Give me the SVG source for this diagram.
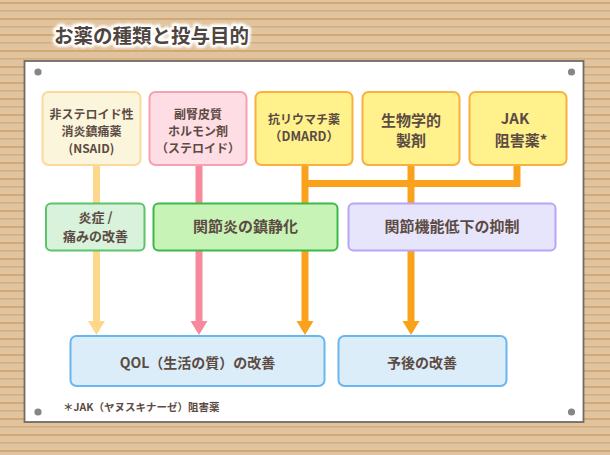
<svg xmlns="http://www.w3.org/2000/svg" width="610" height="455" viewBox="0 0 610 455">
<defs>
<pattern id="wood" x="0" y="2" width="610" height="16" patternUnits="userSpaceOnUse">
<rect width="610" height="16" fill="#e0c49f"/>
<rect y="0" width="610" height="2" fill="#d3a872"/>
<rect y="8" width="610" height="1.6" fill="#d6ae7c"/>
</pattern>
<filter id="glow" x="-10%" y="-40%" width="120%" height="180%">
<feGaussianBlur stdDeviation="1"/>
</filter>
</defs>
<style>
.t{font-family:"Noto Sans CJK JP","Noto Sans",sans-serif;font-weight:bold;fill:#5c4b43;text-anchor:middle}
.box{stroke-width:2}
.nsaid{fill:#fbf5dc;stroke:#fcd99b}
.ster{fill:#fedde4;stroke:#f7a0b1}
.yel{fill:#fff18c;stroke:#f9b03c}
.g1{fill:#d8f2dc;stroke:#5cc46b}
.g2{fill:#c8f3b6;stroke:#3bb94b}
.pur{fill:#e7e5fc;stroke:#b7a6f5}
.blu{fill:#dcedfa;stroke:#6ab6ee}
.pin{fill:#8a8582}
</style>
<rect width="610" height="455" fill="url(#wood)"/>
<g id="title">
<text x="54" y="43" class="t" style="text-anchor:start;font-size:19.5px;fill:#fff;stroke:#fff;stroke-width:6;stroke-linejoin:round" filter="url(#glow)">お薬の種類と投与目的</text>
<text x="54" y="43" class="t" style="text-anchor:start;font-size:19.5px;fill:#4f4540">お薬の種類と投与目的</text>
</g>
<g id="board">
<rect x="24.5" y="61" width="559" height="361" fill="#fff" stroke="#6f6b67" stroke-width="1.8"/>
<circle class="pin" cx="38" cy="72" r="3.6"/>
<circle class="pin" cx="571.5" cy="72" r="3.6"/>
<circle class="pin" cx="38" cy="412" r="3.6"/>
<circle class="pin" cx="571.5" cy="412" r="3.6"/>
</g>
<g id="connectors" fill="none" stroke-width="7">
<path d="M96.5,165 V323" stroke="#fdd88c"/>
<polygon points="88,321 105,321 96.5,335" fill="#fdd88c" stroke="none"/>
<path d="M199,165 V323" stroke="#f7899d"/>
<polygon points="190.5,321 207.5,321 199,335" fill="#f7899d" stroke="none"/>
<path d="M305,165 V323 M411,165 V323 M517,165 V183.5 H305" stroke="#faa21c" stroke-linejoin="miter"/>
<polygon points="296.5,321 313.5,321 305,335" fill="#faa21c" stroke="none"/>
<polygon points="402.5,321 419.5,321 411,335" fill="#faa21c" stroke="none"/>
</g>
<g id="n-nsaid">
<rect class="box nsaid" x="42.5" y="92" width="98" height="73" rx="6"/>
<text class="t" x="91.5" y="119" font-size="12">非ステロイド性</text>
<text class="t" x="91.5" y="136" font-size="12">消炎鎮痛薬</text>
<text class="t" x="91.5" y="152.5" font-size="12">(NSAID)</text>
</g>
<g id="n-steroid">
<rect class="box ster" x="149.5" y="92" width="97" height="73" rx="6"/>
<text class="t" x="198" y="119" font-size="12">副腎皮質</text>
<text class="t" x="198" y="136" font-size="12">ホルモン剤</text>
<text class="t" x="198" y="152.5" font-size="12">（ステロイド）</text>
</g>
<g id="n-dmard">
<rect class="box yel" x="255.5" y="92" width="97" height="73" rx="6"/>
<text class="t" x="304" y="123.5" font-size="12">抗リウマチ薬</text>
<text class="t" x="304" y="140.5" font-size="12.5">（DMARD）</text>
</g>
<g id="n-bio">
<rect class="box yel" x="362.5" y="92" width="97" height="73" rx="6"/>
<text class="t" x="411" y="125.5" font-size="15">生物学的</text>
<text class="t" x="411" y="146" font-size="15">製剤</text>
</g>
<g id="n-jak">
<rect class="box yel" x="469.5" y="92" width="97" height="73" rx="6"/>
<text class="t" x="515" y="124" font-size="15">JAK</text>
<text class="t" x="521" y="146" font-size="15">阻害薬*</text>
</g>
<g id="n-pain">
<rect class="box g1" x="46" y="203.5" width="98.5" height="47" rx="5"/>
<text class="t" x="95.5" y="222" font-size="13">炎症 /</text>
<text class="t" x="95.5" y="240.5" font-size="13">痛みの改善</text>
</g>
<g id="n-calm">
<rect class="box g2" x="153.5" y="203.5" width="184" height="47" rx="5"/>
<text class="t" x="245.5" y="232" font-size="15">関節炎の鎮静化</text>
</g>
<g id="n-func">
<rect class="box pur" x="348.5" y="203.5" width="207" height="47" rx="5"/>
<text class="t" x="452" y="232" font-size="15">関節機能低下の抑制</text>
</g>
<g id="n-qol">
<rect class="box blu" x="70.5" y="336" width="254" height="50" rx="6"/>
<text class="t" x="197.5" y="368" font-size="14">QOL（生活の質）の改善</text>
</g>
<g id="n-prog">
<rect class="box blu" x="338.5" y="336" width="168" height="50" rx="6"/>
<text class="t" x="422" y="368" font-size="14">予後の改善</text>
</g>
<g id="note">
<text class="t" x="63" y="410.5" font-size="10.5" style="text-anchor:start">＊JAK（ヤヌスキナーゼ）阻害薬</text>
</g>
</svg>
